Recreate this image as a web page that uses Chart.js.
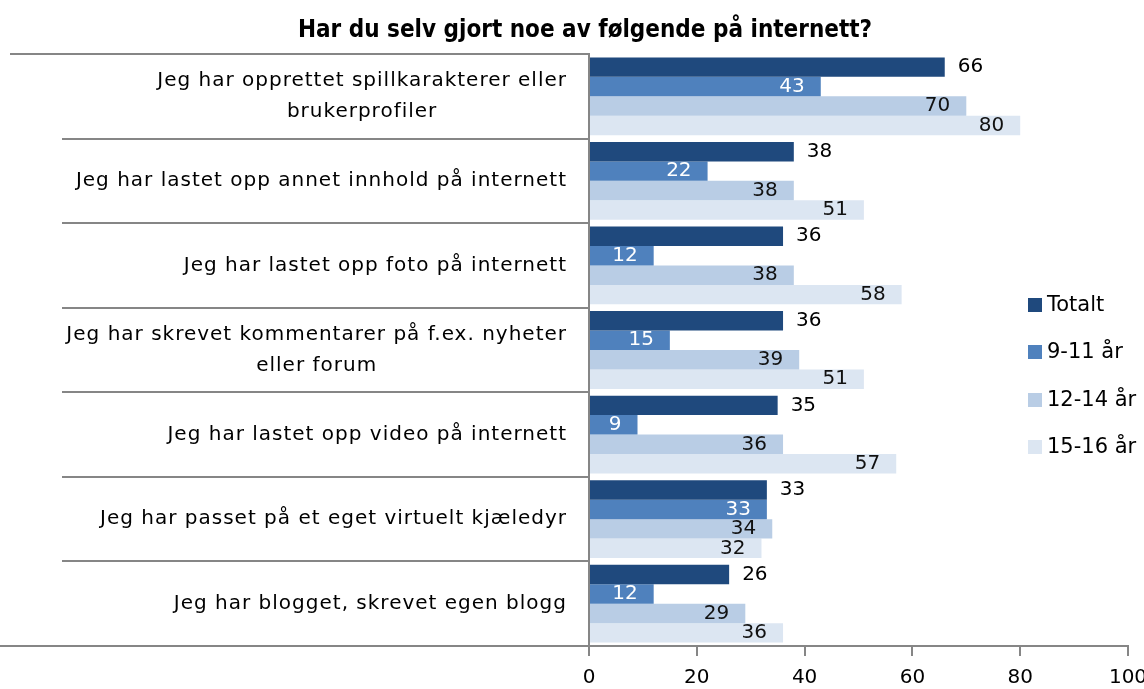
<!DOCTYPE html>
<html>
<head>
<meta charset="utf-8">
<script src="https://cdn.jsdelivr.net/npm/chart.js@4.4.0/dist/chart.umd.min.js"></script>
<style>
  html, body { margin: 0; padding: 0; background: #fff; }
  #wrap { width: 1144px; height: 689px; position: relative; }
</style>
</head>
<body>
<div id="wrap"><canvas id="chart"></canvas></div>
<script>
// data
const categories = [
  ["Jeg har opprettet spillkarakterer eller", "brukerprofiler"],
  ["Jeg har lastet opp annet innhold på internett"],
  ["Jeg har lastet opp foto på internett"],
  ["Jeg har skrevet kommentarer på f.ex. nyheter", "eller forum"],
  ["Jeg har lastet opp video på internett"],
  ["Jeg har passet på et eget virtuelt kjæledyr"],
  ["Jeg har blogget, skrevet egen blogg"]
];
const seriesNames = ["Totalt", "9-11 år", "12-14 år", "15-16 år"];
const totalt = [66, 38, 36, 36, 35, 33, 26];
const age9to11 = [43, 22, 12, 15, 9, 33, 12];
const age12to14 = [70, 38, 38, 39, 36, 34, 29];
const age15to16 = [80, 51, 58, 51, 57, 32, 36];
const xTicks = [0, 20, 40, 60, 80, 100];
const title = "Har du selv gjort noe av følgende på internett?";

const colors = ["#1F497D", "#4F81BD", "#B9CDE5", "#DCE6F2"];
const labelColors = ["#000", "#fff", "#111", "#111"];
const axisGrey = "#868686";
const FONT = "'DejaVu Sans', sans-serif";

// title, category labels + the separator lines that run into the label area
const categoryLabels = {
  id: "categoryLabels",
  afterDraw(chart) {
    const { ctx, chartArea } = chart;
    const y = chart.scales.y;
    const n = categories.length;
    const step = (chartArea.bottom - chartArea.top) / n;
    ctx.save();
    ctx.fillStyle = "#000";
    ctx.textBaseline = "middle";
    ctx.textAlign = "center";
    ctx.font = "bold 24px 'DejaVu Sans Condensed', 'DejaVu Sans', sans-serif";
    ctx.fillText(title, 585, 31);

    ctx.strokeStyle = axisGrey;
    ctx.lineWidth = 2;
    for (let i = 0; i <= n; i++) {
      const yy = Math.round(chartArea.top + i * step);
      const x0 = i === 0 ? 10 : (i === n ? 0 : 62);
      ctx.beginPath();
      ctx.moveTo(x0, yy);
      ctx.lineTo(chartArea.left, yy);
      ctx.stroke();
    }
    ctx.font = "20px " + FONT;
    ctx.letterSpacing = "1px";
    const lh = 31;
    categories.forEach((lines, i) => {
      const cy = y.getPixelForValue(i);
      const w = Math.max(...lines.map(l => ctx.measureText(l).width));
      const cx = chartArea.left - 22 - w / 2;
      lines.forEach((l, j) => {
        ctx.fillText(l, cx, cy + (j - (lines.length - 1) / 2) * lh);
      });
    });
    ctx.restore();
  }
};

// value labels on the bars
const barLabels = {
  id: "barLabels",
  afterDatasetsDraw(chart) {
    const { ctx } = chart;
    ctx.save();
    ctx.font = "20px " + FONT;
    ctx.textBaseline = "middle";
    chart.data.datasets.forEach((ds, di) => {
      const meta = chart.getDatasetMeta(di);
      meta.data.forEach((bar, i) => {
        const v = ds.data[i];
        ctx.fillStyle = labelColors[di];
        if (di === 0) {
          ctx.textAlign = "left";
          ctx.fillText(v, bar.x + 13, bar.y);
        } else {
          ctx.textAlign = "right";
          ctx.fillText(v, bar.x - 16, bar.y);
        }
      });
    });
    ctx.restore();
  }
};

// legend floating over the right side of the plot
const floatLegend = {
  id: "floatLegend",
  afterDraw(chart) {
    const { ctx } = chart;
    ctx.save();
    ctx.font = "21px " + FONT;
    ctx.textBaseline = "middle";
    ctx.textAlign = "left";
    const rows = [305, 352, 400, 447];
    chart.data.datasets.forEach((ds, i) => {
      ctx.fillStyle = ds.backgroundColor;
      ctx.fillRect(1028, rows[i] - 7, 14, 14);
      ctx.fillStyle = "#000";
      ctx.fillText(ds.label, 1047, rows[i] + 1);
    });
    ctx.restore();
  }
};

const ctx = document.getElementById("chart").getContext("2d");
new Chart(ctx, {
  type: "bar",
  data: {
    labels: categories,
    datasets: [totalt, age9to11, age12to14, age15to16].map((d, i) => ({
      label: seriesNames[i],
      data: d,
      backgroundColor: colors[i],
      borderWidth: 0,
      categoryPercentage: 0.92,
      barPercentage: 1.0
    }))
  },
  options: {
    indexAxis: "y",
    responsive: true,
    maintainAspectRatio: false,
    animation: false,
    layout: { padding: { left: 0, right: 16, top: 54, bottom: 0 } },
    plugins: {
      legend: { display: false },
      tooltip: { enabled: false },
      title: { display: false }
    },
    scales: {
      x: {
        min: 0,
        max: 100,
        afterBuildTicks(scale) { scale.ticks = xTicks.map(v => ({ value: v })); },
        afterFit(scale) { scale.paddingRight = 0; scale.height = 43; },
        grid: { drawOnChartArea: false, color: axisGrey, lineWidth: 2, tickLength: 10 },
        border: { color: axisGrey, width: 2 },
        ticks: { color: "#000", font: { family: FONT, size: 20 }, padding: 10 }
      },
      y: {
        grid: { display: false },
        border: { color: axisGrey, width: 2 },
        ticks: { display: false },
        afterFit(scale) { scale.width = 589; }
      }
    }
  },
  plugins: [categoryLabels, barLabels, floatLegend]
});
</script>
</body>
</html>
